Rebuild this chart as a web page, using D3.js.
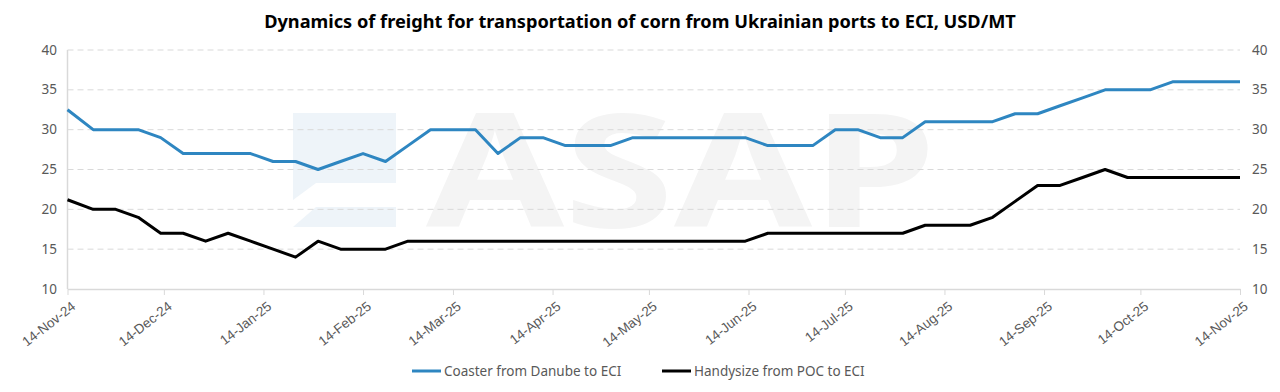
<!DOCTYPE html>
<html>
<head>
<meta charset="utf-8">
<script src="https://cdn.jsdelivr.net/npm/d3@7"></script>
<style>
    body { margin: 0; background: #fff; }
    svg { display: block; font-family: 'Noto Sans', 'Open Sans', sans-serif; }
</style>
</head>
<body>
<svg></svg>
<script>
// weekly observation dates
const dates = [
    '2024-11-14', '2024-11-22', '2024-11-29', '2024-12-06', '2024-12-13', '2024-12-20', '2024-12-27',
    '2025-01-03', '2025-01-10', '2025-01-17', '2025-01-24', '2025-01-31',
    '2025-02-07', '2025-02-14', '2025-02-21', '2025-02-28',
    '2025-03-07', '2025-03-14', '2025-03-21', '2025-03-28',
    '2025-04-04', '2025-04-11', '2025-04-18', '2025-04-25',
    '2025-05-02', '2025-05-09', '2025-05-16', '2025-05-23', '2025-05-30',
    '2025-06-06', '2025-06-13', '2025-06-20', '2025-06-27',
    '2025-07-04', '2025-07-11', '2025-07-18', '2025-07-25',
    '2025-08-01', '2025-08-08', '2025-08-15', '2025-08-22', '2025-08-29',
    '2025-09-05', '2025-09-12', '2025-09-19', '2025-09-26',
    '2025-10-03', '2025-10-10', '2025-10-17', '2025-10-24', '2025-10-31',
    '2025-11-07', '2025-11-14'
];

const coaster = [
    32.5, 30, 30, 30, 29, 27, 27, 27, 27, 26, 26, 25, 26, 27, 26, 28,
    30, 30, 30, 27, 29, 29, 28, 28, 28, 29, 29, 29, 29, 29, 29,
    28, 28, 28, 30, 30, 29, 29, 31, 31, 31, 31, 32, 32, 33, 34,
    35, 35, 35, 36, 36, 36, 36
];

const handysize = [
    21.2, 20, 20, 19, 17, 17, 16, 17, 16, 15, 14, 16, 15, 15, 15, 16,
    16, 16, 16, 16, 16, 16, 16, 16, 16, 16, 16, 16, 16, 16, 16,
    17, 17, 17, 17, 17, 17, 17, 18, 18, 18, 19, 21, 23, 23, 24,
    25, 24, 24, 24, 24, 24, 24
];

const tickDates = [
    '2024-11-14', '2024-12-14', '2025-01-14', '2025-02-14', '2025-03-14', '2025-04-14', '2025-05-14',
    '2025-06-14', '2025-07-14', '2025-08-14', '2025-09-14', '2025-10-14', '2025-11-14'
];
const yTicks = [10, 15, 20, 25, 30, 35, 40];

const seriesNames = ['Coaster from Danube to ECI', 'Handysize from POC to ECI'];
const seriesColors = ['#2e86c1', '#000000'];

const width = 1280;
const height = 392;
const parse = d3.timeParse('%Y-%m-%d');
const fmt = d3.timeFormat('%-d-%b-%y');

const svg = d3.select('svg')
    .attr('width', width)
    .attr('height', height);

const x = d3.scaleTime()
    .domain([parse(tickDates[0]), parse(tickDates[tickDates.length - 1])])
    .range([67.5, 1240]);

const y = d3.scaleLinear()
    .domain([10, 40])
    .range([289, 50]);

// faint watermark (logo icon + letters)
const wm = svg.append('g').attr('class', 'watermark');
wm.append('path')
    .attr('d', 'M293,113 H396 V183 H316 L293,200 Z M316,207 H396 V227 H293 Z')
    .attr('fill', '#eef4f9');
wm.append('text')
    .attr('x', 681)
    .attr('y', 227)
    .attr('text-anchor', 'middle')
    .attr('font-size', 158)
    .attr('font-weight', 'bold')
    .attr('fill', '#f4f4f4')
    .attr('textLength', 510)
    .attr('lengthAdjust', 'spacingAndGlyphs')
    .text('ASAP');

// gridlines
svg.append('g')
    .selectAll('line')
    .data(yTicks.filter(d => d > 10))
    .enter().append('line')
    .attr('x1', 67.5)
    .attr('x2', 1240)
    .attr('y1', d => y(d))
    .attr('y2', d => y(d))
    .attr('stroke', '#d9d9d9')
    .attr('stroke-width', 1)
    .attr('stroke-dasharray', '6,4');

// x axis
const xAxis = svg.append('g')
    .attr('transform', `translate(0,${y(10)})`)
    .call(d3.axisBottom(x)
        .tickValues(tickDates.map(parse))
        .tickFormat(fmt)
        .tickSize(6)
        .tickSizeOuter(0));
xAxis.select('.domain').attr('stroke', '#d9d9d9').attr('stroke-width', 1.5);
xAxis.selectAll('.tick line').attr('stroke', '#d9d9d9');
xAxis.selectAll('.tick text')
    .attr('fill', '#595959')
    .attr('font-size', 13.5)
    .attr('text-anchor', 'end')
    .attr('dx', 0)
    .attr('dy', 0)
    .attr('transform', 'translate(3,12) rotate(-38)');

// left vertical axis line
svg.append('line')
    .attr('x1', 67.5).attr('x2', 67.5)
    .attr('y1', y(40)).attr('y2', y(10))
    .attr('stroke', '#d9d9d9')
    .attr('stroke-width', 1.5);

// y labels both sides
const yl = svg.append('g').attr('font-size', 13.5).attr('fill', '#595959');
yl.selectAll('text.left')
    .data(yTicks)
    .enter().append('text')
    .attr('class', 'left')
    .attr('x', 57)
    .attr('y', d => y(d) + 4.5)
    .attr('text-anchor', 'end')
    .text(d => d);
yl.selectAll('text.right')
    .data(yTicks)
    .enter().append('text')
    .attr('class', 'right')
    .attr('x', 1252)
    .attr('y', d => y(d) + 4.5)
    .attr('text-anchor', 'start')
    .text(d => d);

// lines
const line = d3.line()
    .x((d, i) => x(parse(dates[i])))
    .y(d => y(d));

[coaster, handysize].forEach((vals, k) => {
    svg.append('path')
        .datum(vals)
        .attr('fill', 'none')
        .attr('stroke', seriesColors[k])
        .attr('stroke-width', 3)
        .attr('stroke-linejoin', 'round')
        .attr('d', line);
});

// title
svg.append('text')
    .attr('x', 640)
    .attr('y', 28)
    .attr('text-anchor', 'middle')
    .attr('font-size', 18.2)
    .attr('font-weight', 'bold')
    .attr('fill', '#000')
    .text('Dynamics of freight for transportation of corn from Ukrainian ports to ECI, USD/MT');

// legend
const legendX = [412, 662];
const legend = svg.append('g');
seriesNames.forEach((name, k) => {
    legend.append('line')
        .attr('x1', legendX[k]).attr('x2', legendX[k] + 29)
        .attr('y1', 371).attr('y2', 371)
        .attr('stroke', seriesColors[k])
        .attr('stroke-width', 3);
    legend.append('text')
        .attr('x', legendX[k] + 32)
        .attr('y', 375.5)
        .attr('font-size', 13.5)
        .attr('fill', '#595959')
        .text(name);
});
</script>
</body>
</html>
